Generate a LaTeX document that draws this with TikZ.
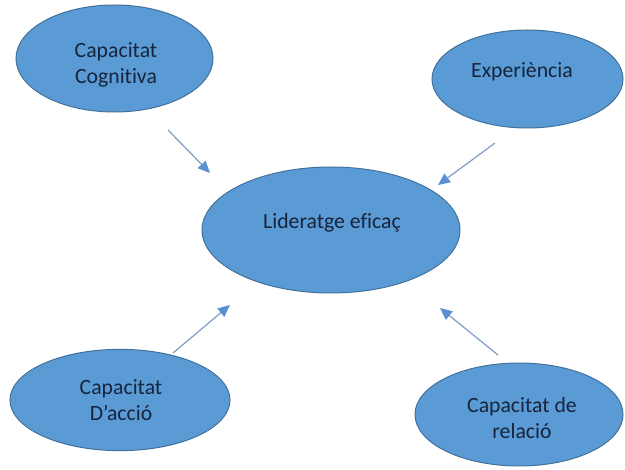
\documentclass[tikz,border=0pt]{standalone}
\usepackage{fontspec}
\setmainfont{Carlito}[Ligatures={NoCommon}]
\usetikzlibrary{shapes.geometric,arrows.meta}
\definecolor{shapefill}{HTML}{5B9BD5}
\definecolor{shapeline}{HTML}{41719C}
\definecolor{textnavy}{HTML}{17243D}
\definecolor{arrowline}{HTML}{7F9DC6}
\definecolor{arrowhead}{HTML}{5A8FD2}
\begin{document}
\begin{tikzpicture}[x=0.75pt,y=-0.75pt,
  bubble/.style={ellipse, draw=shapeline, line width=0.75pt, fill=shapefill, inner sep=0pt},
  caption/.style={font=\fontsize{16.3}{19.9}\selectfont, text=textnavy, align=center, inner sep=0pt},
  link/.style={draw=arrowline, line width=0.9pt,
    -{Triangle[length=9pt,width=8pt,color=arrowhead]}}]
\useasboundingbox (0,0) rectangle (625,470);

% ellipses
\node[bubble, minimum width=147.75pt, minimum height=80.25pt] (cog) at (114.5,58.5) {};
\node[bubble, minimum width=143.25pt, minimum height=73.5pt] (exp) at (527.5,79) {};
\node[bubble, minimum width=193.5pt, minimum height=94.5pt] (lid) at (331,230) {};
\node[bubble, minimum width=165pt, minimum height=76pt] (acc) at (120,400) {};
\node[bubble, minimum width=156pt, minimum height=77.25pt] (rel) at (519,414.5) {};

% labels
\node[caption] (cogtxt) at (116,64.75) {Capacitat\\Cognitiva};
\node[caption] (exptxt) at (522,72) {Experiència};
\node[caption] (lidtxt) at (332,222.75) {Lideratge eficaç};
\node[caption] (acctxt) at (121,400) {Capacitat\\D’acció};
\node[caption] (reltxt) at (522,418) {Capacitat de\\relació};

% arrow end points
\coordinate (cogA) at (168,130);
\coordinate (cogB) at (210,173);
\coordinate (expA) at (495,143);
\coordinate (expB) at (438,185);
\coordinate (accA) at (173,353);
\coordinate (accB) at (230,305);
\coordinate (relA) at (498,355);
\coordinate (relB) at (440,308);

\draw[link] (cogA) -- (cogB);
\draw[link] (expA) -- (expB);
\draw[link] (accA) -- (accB);
\draw[link] (relA) -- (relB);
\end{tikzpicture}
\end{document}
